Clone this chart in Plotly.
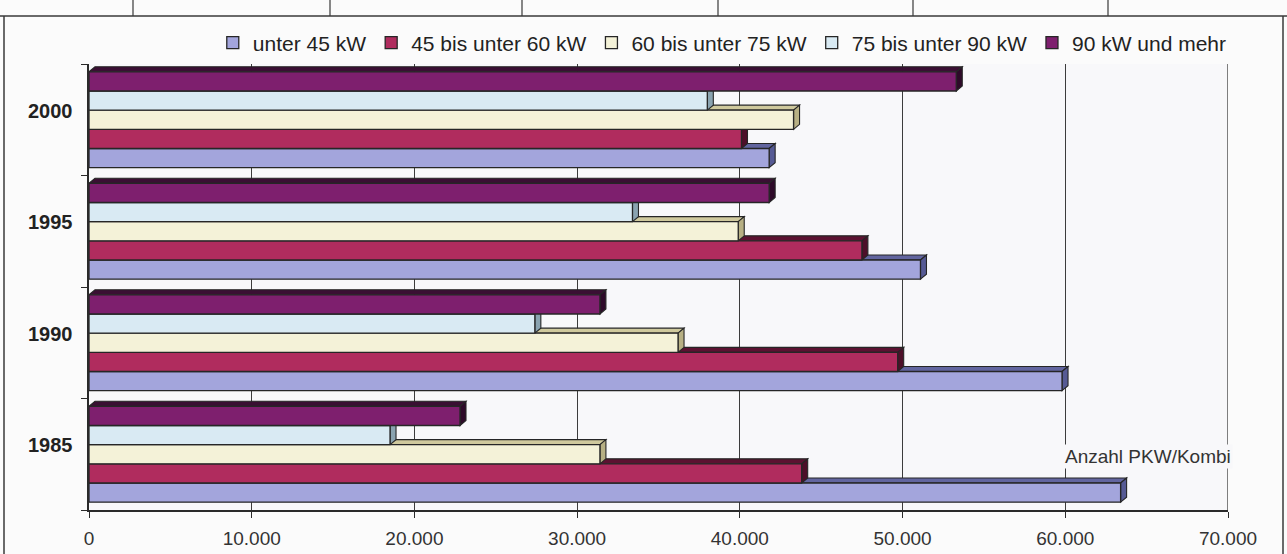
import plotly.graph_objects as go

# Pkw/Kombi nach Motorleistung, Anzahl je Jahr
years = ["1985", "1990", "1995", "2000"]
classes = ["unter 45 kW", "45 bis unter 60 kW", "60 bis unter 75 kW",
           "75 bis unter 90 kW", "90 kW und mehr"]
unter_45 = [63400, 59800, 51100, 41800]
kw_45_60 = [43800, 49700, 47500, 40100]
kw_60_75 = [31400, 36200, 39900, 43300]
kw_75_90 = [18500, 27400, 33400, 38000]
kw_90_plus = [22800, 31400, 41800, 53300]
series = [unter_45, kw_45_60, kw_60_75, kw_75_90, kw_90_plus]

x_ticks = [0, 10000, 20000, 30000, 40000, 50000, 60000, 70000]
axis_title = "Anzahl PKW/Kombi"

face_colors = ["#a3a5dc", "#b02c5e", "#f4f2d8", "#d9eaf3", "#7e1f6e"]
top_colors = ["#62659f", "#5c1231", "#cfc99d", "#9fb9c6", "#3a0f33"]
side_colors = ["#565a94", "#4d0f29", "#b7b084", "#8aa3b0", "#2e0a29"]
edge = "#262626"
bg = "#f8f8fa"
font_family = "Liberation Sans, Arial"

W, H = 1287, 554
L, R, T, B = 89, 59, 64, 44
plot_w, plot_h = W - L - R, H - T - B
x_max = x_ticks[-1]
bargap = 0.14

fig = go.Figure()
for name, vals, col in zip(classes, series, face_colors):
    fig.add_trace(go.Bar(
        y=years, x=vals, name=name, orientation="h",
        marker=dict(color=col, line=dict(color=edge, width=1.3)),
    ))

# pseudo-3D depth: top face and end face of every bar
depth_x = 6 * x_max / plot_w     # 6 px in data units
depth_y = 5                      # px
n = len(series)
group_w = 1 - bargap
bar_w = group_w / n
half_h = bar_w * plot_h / len(years) / 2
shapes = []
for i, vals in enumerate(series):
    for c, v in enumerate(vals):
        yc = c - group_w / 2 + bar_w * (i + 0.5)
        top = (f"M 0,{half_h} L {v},{half_h} L {v + depth_x},{half_h + depth_y} "
               f"L {depth_x},{half_h + depth_y} Z")
        side = (f"M {v},{-half_h} L {v + depth_x},{-half_h + depth_y} "
                f"L {v + depth_x},{half_h + depth_y} L {v},{half_h} Z")
        for path, fill in ((top, top_colors[i]), (side, side_colors[i])):
            shapes.append(dict(
                type="path", path=path, xref="x", yref="y",
                ysizemode="pixel", yanchor=yc,
                fillcolor=fill, line=dict(color=edge, width=1.1),
                layer="between",
            ))

# closing grid line at the end of the value axis
shapes.append(dict(type="line", xref="x", yref="paper", x0=x_max, x1=x_max, y0=0, y1=1,
                   line=dict(color="#3c3c3c", width=1.3), layer="between"))

# frame of the page and the table row above it
def px_x(p):
    return (p - L) / plot_w

def px_y(p):
    return (H - B - p) / plot_h

frame = dict(xref="paper", yref="paper", line=dict(color="#3a3a3a", width=1.5))
shapes.append(dict(type="line", x0=px_x(0), x1=px_x(W), y0=px_y(16), y1=px_y(16), **frame))
shapes.append(dict(type="line", x0=px_x(4), x1=px_x(4), y0=px_y(16), y1=px_y(H), **frame))
shapes.append(dict(type="line", x0=px_x(1283), x1=px_x(1283), y0=px_y(16), y1=px_y(H), **frame))
for sep in [133, 330, 522, 718, 913, 1108]:
    shapes.append(dict(type="line", x0=px_x(sep), x1=px_x(sep), y0=px_y(0), y1=px_y(16),
                       xref="paper", yref="paper", line=dict(color="#3a3a3a", width=1.2)))

annotations = []
for c, yr in enumerate(years):
    annotations.append(dict(
        x=-0.012, xref="paper", y=c, yref="y", yshift=9,
        text=f"<b>{yr}</b>", showarrow=False, xanchor="right",
        font=dict(family=font_family, size=20, color="#222"),
    ))
annotations.append(dict(
    x=65100, xref="x", y=0, yref="y", yshift=-2, text=axis_title, showarrow=False,
    font=dict(family=font_family, size=19, color="#333"),
    bgcolor=bg,
))

fig.update_layout(
    width=W, height=H,
    margin=dict(l=L, r=R, t=T, b=B, autoexpand=False),
    barmode="group", bargap=bargap, bargroupgap=0,
    paper_bgcolor="#fbfbfb", plot_bgcolor=bg,
    separators=",.",
    font=dict(family=font_family, color="#333"),
    showlegend=True,
    legend=dict(
        orientation="h", x=0.556, xanchor="center", y=1.047, yanchor="middle",
        font=dict(size=21, color="#222"), itemwidth=30, traceorder="normal",
        bgcolor="rgba(0,0,0,0)",
    ),
    shapes=shapes, annotations=annotations,
)
fig.update_xaxes(
    range=[0, x_max], tickvals=x_ticks, tickformat=",d", automargin=False,
    showgrid=True, gridcolor="#3c3c3c", gridwidth=1.3,
    showline=True, linecolor="#2a2a2a", linewidth=1.5,
    ticks="outside", ticklen=6, tickcolor="#2a2a2a", ticklabelstandoff=4,
    tickfont=dict(size=19, color="#333"), zeroline=False,
)
fig.update_yaxes(
    categoryorder="array", categoryarray=years, automargin=False,
    showticklabels=False, showgrid=False, zeroline=False,
    showline=True, linecolor="#2a2a2a", linewidth=1.5,
    ticks="outside", ticklen=6, tickson="boundaries", tickcolor="#2a2a2a",
)

fig.write_html("out.html")
